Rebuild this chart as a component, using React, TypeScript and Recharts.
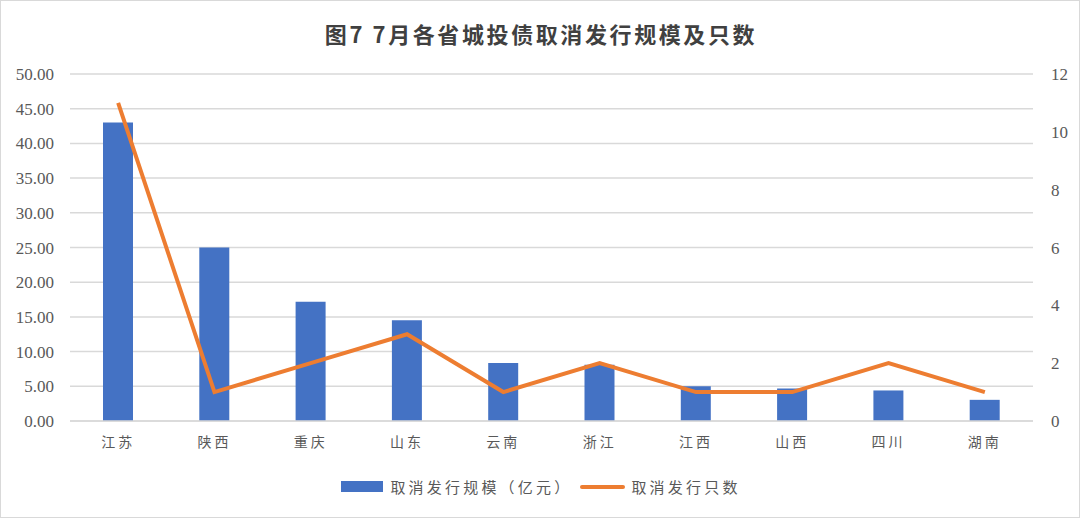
import { Bar, CartesianGrid, ComposedChart, Line, XAxis, YAxis } from 'recharts'

const provinces = ['江苏', '陕西', '重庆', '山东', '云南', '浙江', '江西', '山西', '四川', '湖南']
const scale = [43.0, 25.0, 17.2, 14.5, 8.35, 8.1, 5.0, 4.7, 4.4, 3.05]
const counts = [11, 1, 2, 3, 1, 2, 1, 1, 2, 1]
const leftTicks = [0, 5, 10, 15, 20, 25, 30, 35, 40, 45, 50]
const rightTicks = [0, 2, 4, 6, 8, 10, 12]

const BLUE = '#4472c4'
const ORANGE = '#ed7d31'
const TEXT = '#595959'
const CJK = '"Noto Sans CJK SC", sans-serif'
const NUM = '"Liberation Serif", "DejaVu Serif", serif'

const data = provinces.map((p, i) => ({ name: p, scale: scale[i], count: counts[i] }))

function NumTick(props: any) {
  const { x, y, payload, anchor, digits } = props
  return (
    <text x={x} y={y} dy={6} textAnchor={anchor} fill={TEXT} fontSize={17} style={{ fontFamily: NUM }}>
      {digits ? Number(payload.value).toFixed(digits) : payload.value}
    </text>
  )
}

export default function App() {
  return (
    <div
      style={{
        position: 'absolute',
        left: 0,
        top: 0,
        width: 1080,
        height: 518,
        background: '#fff',
        boxSizing: 'border-box',
        border: '1px solid #d9d9d9',
      }}
    >
      <div
        style={{
          position: 'absolute',
          top: 16,
          left: 0,
          width: 1080,
          textAlign: 'center',
          fontFamily: CJK,
          fontWeight: 700,
          fontSize: 22,
          letterSpacing: 2.6,
          color: '#404040',
        }}
      >
        图7 7月各省城投债取消发行规模及只数
      </div>
      <div style={{ position: 'absolute', left: -1, top: -1 }}>
        <ComposedChart width={1080} height={518} data={data} margin={{ top: 74, right: 0, bottom: 67, left: 0 }}>
          <CartesianGrid yAxisId="left" vertical={false} stroke="#d9d9d9" strokeWidth={1.5} />
          <XAxis
            dataKey="name"
            axisLine={{ stroke: '#d9d9d9', strokeWidth: 1.5 }}
            tickLine={false}
            height={30}
            tick={{ fill: TEXT, fontSize: 14, fontFamily: CJK, letterSpacing: 3 }}
            tickMargin={10}
          />
          <YAxis
            yAxisId="left"
            domain={[0, 50]}
            ticks={leftTicks}
            width={70}
            axisLine={false}
            tickLine={false}
            tickMargin={10}
            tick={<NumTick anchor="end" digits={2} />}
          />
          <YAxis
            yAxisId="right"
            orientation="right"
            domain={[0, 12]}
            ticks={rightTicks}
            width={47}
            axisLine={false}
            tickLine={false}
            tickMargin={12}
            tick={<NumTick anchor="start" digits={0} />}
          />
          <Bar yAxisId="left" dataKey="scale" fill={BLUE} barSize={30} isAnimationActive={false} />
          <Line
            yAxisId="right"
            dataKey="count"
            stroke={ORANGE}
            strokeWidth={4}
            dot={false}
            activeDot={false}
            type="linear"
            isAnimationActive={false}
          />
        </ComposedChart>
      </div>
      <div
        style={{
          position: 'absolute',
          top: 475,
          left: 0,
          width: 1080,
          display: 'flex',
          justifyContent: 'center',
          alignItems: 'center',
          fontFamily: CJK,
          fontSize: 15,
          letterSpacing: 3.2,
          color: TEXT,
        }}
      >
        <span style={{ display: 'inline-block', width: 42, height: 11, background: BLUE, marginRight: 7 }} />
        <span style={{ marginRight: 8 }}>取消发行规模（亿元）</span>
        <span style={{ display: 'inline-block', width: 45, height: 4, borderRadius: 2, background: ORANGE, marginRight: 6 }} />
        <span>取消发行只数</span>
      </div>
    </div>
  )
}
